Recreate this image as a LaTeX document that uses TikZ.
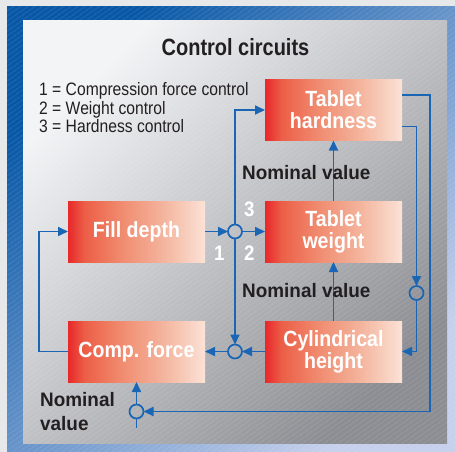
\documentclass[tikz,border=0pt]{standalone}
\usepackage{fontspec}
\setmainfont{Liberation Sans}
\newfontfamily\titlefont{Liberation Sans}[FakeStretch=0.85]
\newfontfamily\legendfont{Liberation Sans}[FakeStretch=0.87]
\newfontfamily\boxfont{Liberation Sans}[FakeStretch=0.89]
\newfontfamily\nomfont{Liberation Sans}[FakeStretch=0.97]
\usetikzlibrary{arrows.meta,calc,patterns.meta}
\definecolor{bggrey}{HTML}{E7E8EA}
\definecolor{frameA}{HTML}{0757A6}
\definecolor{frameM}{HTML}{5F84C4}
\definecolor{frameB}{HTML}{C6D0EC}
\definecolor{panelA}{HTML}{F3F4F6}
\definecolor{panelM}{HTML}{BDBFC3}
\definecolor{panelB}{HTML}{8B8D92}
\definecolor{boxA}{HTML}{E8282B}
\definecolor{boxQ}{HTML}{EC5E47}
\definecolor{boxM}{HTML}{F08A6E}
\definecolor{boxR}{HTML}{F4B59E}
\definecolor{boxB}{HTML}{FBE2D6}
\definecolor{lblue}{HTML}{1B65B5}
\definecolor{txt}{HTML}{231F20}
\pgfdeclarehorizontalshading{boxshade}{100bp}{color(0bp)=(boxA); color(25bp)=(boxA); color(31bp)=(boxQ); color(44bp)=(boxM); color(60bp)=(boxR); color(75bp)=(boxB); color(100bp)=(boxB)}
\begin{document}
\begin{tikzpicture}[x=1pt,y=-1pt,
  blk/.style={rectangle, minimum width=137pt, minimum height=61pt, inner sep=0pt, outer sep=0pt,
    shade, shading=boxshade,
    text=white, align=center, font=\boxfont\bfseries\fontsize{22}{22}\selectfont},
  junc/.style={circle, draw=lblue, line width=1.7pt, minimum size=14pt, inner sep=0pt, outer sep=0pt},
  conn/.style={draw=lblue, line width=1.7pt},
  arr/.style={conn, -{Triangle[length=10pt,width=9pt]}},
  digit/.style={text=white, inner sep=0pt, font=\boxfont\bfseries\fontsize{21}{21}\selectfont},
  nom/.style={text=txt, inner sep=0pt, font=\nomfont\bfseries\fontsize{19.5}{24}\selectfont},
  legend/.style={text=txt, inner sep=0pt, anchor=base west, font=\legendfont\fontsize{18}{18}\selectfont}
]
\useasboundingbox (0,0) rectangle (455,452);
\fill[bggrey] (0,0) rectangle (455,452);
\shade[top color=frameA, middle color=frameM, bottom color=frameB, shading angle=45] (7,7) rectangle (455,452);
\shade[top color=panelA, middle color=panelM, bottom color=panelB, shading angle=45] (23,21) rectangle (447,443);
\fill[pattern={Lines[angle=35,distance=4pt,line width=0.6pt]}, pattern color=white, opacity=0.22] (7,7) rectangle (455,452);

% title and legend
\node[text=txt, inner sep=0pt, anchor=base, font=\titlefont\bfseries\fontsize{23.5}{24}\selectfont] (title) at (235.5,55.3) {Control circuits};
\node[legend] (l1) at (39,95.7) {1 = Compression force control};
\node[legend] (l2) at (39,114) {2 = Weight control};
\node[legend] (l3) at (39,132.5) {3 = Hardness control};

% blocks
\node[blk] (th) at (333.5,110) {Tablet\\hardness};
\node[blk] (fd) at (136.5,231.5) {Fill depth};
\node[blk] (tw) at (333.5,231.5) {Tablet\\weight};
\node[blk] (cf) at (136.5,351.5) {Comp. force};
\node[blk] (ch) at (333.5,351.5) {Cylindrical\\height};

% junctions
\node[junc] (j1) at (235,231.5) {};
\node[junc] (j2) at (235,351.5) {};
\node[junc] (j3) at (136.5,411.5) {};
\node[junc] (j4) at (416.5,293) {};

\coordinate (thA) at ($(th.north east)!0.25!(th.south east)$);
\coordinate (thB) at ($(th.north east)!0.77!(th.south east)$);
\coordinate (r1) at (430,411.5);
\coordinate (nin) at (136.5,428);

% connectors
\draw[arr] (fd.east) -- (j1.west);
\draw[arr] (j1.east) -- (tw.west);
\draw[arr] (j1.north) |- (th.west);
\draw[arr] (j1.south) -- (j2.north);
\draw[arr] (ch.west) -- (j2.east);
\draw[arr] (j2.west) -- (cf.east);
\draw[arr] (cf.west) -- ++(-29,0) |- (fd.west);
\draw[arr] (tw.north) -- (th.south);
\draw[arr] (ch.north) -- (tw.south);
\draw[arr] (thA) -| (r1) -- (j3.east);
\draw[arr] (thB) -| (j4.north);
\draw[arr] (j4.south) |- (ch.east);
\draw[conn] (nin) -- (j3.south);
\draw[arr] (j3.north) -- (cf.south);

% labels
\node[digit] (d1) at (219.3,253) {1};
\node[digit] (d2) at (249.3,253) {2};
\node[digit] (d3) at (249.3,209) {3};
\node[nom, anchor=base west] (n1) at (242,179.3) {Nominal value};
\node[nom, anchor=base west] (n2) at (242,297) {Nominal value};
\node[nom, anchor=base west] (n3) at (40,406) {Nominal};
\node[nom, anchor=base west] (n4) at (40,430) {value};
\end{tikzpicture}
\end{document}
